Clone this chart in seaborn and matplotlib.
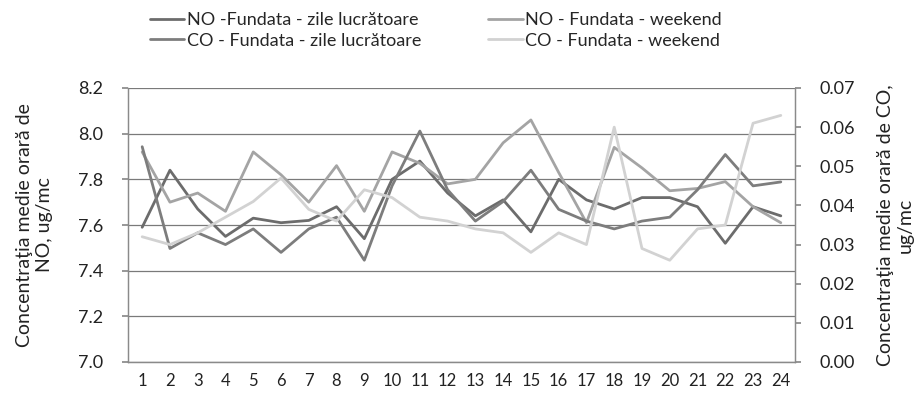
import seaborn as sns
import matplotlib.pyplot as plt
import numpy as np

sns.set_theme(style='white')
plt.rcParams['font.family'] = ['Lato', 'DejaVu Sans']

hours = list(range(1, 25))
hour_labels = [str(h) for h in hours]

# NO concentrations (left axis, ug/mc)
no_work = [7.59, 7.84, 7.67, 7.55, 7.63, 7.61, 7.62, 7.68, 7.54, 7.80, 7.88, 7.74,
           7.64, 7.71, 7.57, 7.80, 7.71, 7.67, 7.72, 7.72, 7.68, 7.52, 7.68, 7.64]
no_weekend = [7.92, 7.70, 7.74, 7.66, 7.92, 7.82, 7.70, 7.86, 7.66, 7.92, 7.87, 7.78,
              7.80, 7.96, 8.06, 7.83, 7.61, 7.94, 7.85, 7.75, 7.76, 7.79, 7.68, 7.61]

# CO concentrations (right axis, ug/mc)
co_work = [0.055, 0.029, 0.033, 0.030, 0.034, 0.028, 0.034, 0.037, 0.026, 0.045, 0.059, 0.044,
           0.036, 0.041, 0.049, 0.039, 0.036, 0.034, 0.036, 0.037, 0.044, 0.053, 0.045, 0.046]
co_weekend = [0.032, 0.030, 0.033, 0.037, 0.041, 0.047, 0.039, 0.036, 0.044, 0.042, 0.037, 0.036,
              0.034, 0.033, 0.028, 0.033, 0.030, 0.060, 0.029, 0.026, 0.034, 0.035, 0.061, 0.063]

labels = ['NO -Fundata - zile lucrătoare', 'CO - Fundata - zile lucrătoare',
          'NO - Fundata - weekend', 'CO - Fundata - weekend']
colors = ['#6c6c6c', '#7d7d7d', '#a4a4a4', '#d2d2d2']

fig, ax = plt.subplots(figsize=(9.23, 4.0), dpi=100)
fig.subplots_adjust(left=0.139, right=0.861, top=0.78, bottom=0.095)
ax2 = ax.twinx()

lw = 2.0
sns.lineplot(x=hours, y=no_work, ax=ax, color=colors[0], lw=lw, label=labels[0], legend=False)
sns.lineplot(x=hours, y=no_weekend, ax=ax, color=colors[2], lw=lw, label=labels[2], legend=False)
sns.lineplot(x=hours, y=co_work, ax=ax2, color=colors[1], lw=lw, label=labels[1], legend=False)
sns.lineplot(x=hours, y=co_weekend, ax=ax2, color=colors[3], lw=lw, label=labels[3], legend=False)

ax.set_xlim(0.5, 24.5)
ax.set_ylim(7.0, 8.2)
ax.set_yticks(np.arange(7.0, 8.21, 0.2))
ax.set_yticklabels([f'{v:.1f}' for v in np.arange(7.0, 8.21, 0.2)])
ax.set_xticks(hours)
ax.set_xticklabels(hour_labels)
ax.set_xticks(np.arange(0.5, 24.6, 1), minor=True)
ax2.set_ylim(0.0, 0.07)
ax2.set_yticks(np.arange(0.0, 0.0701, 0.01))
ax2.set_yticklabels([f'{v:.2f}' for v in np.arange(0.0, 0.0701, 0.01)])

ax.grid(axis='y', color='#7a7a7a', lw=0.9)
ax.set_axisbelow(True)
ax2.grid(False)

for a in (ax, ax2):
    for s in a.spines.values():
        s.set_color('#8a8a8a')
        s.set_linewidth(0.9)
    a.spines['top'].set_visible(False)

ax.tick_params(axis='x', which='major', length=0, labelsize=12, pad=8, colors='#222222')
ax.tick_params(axis='x', which='minor', length=4, color='#8a8a8a', direction='in')
ax.tick_params(axis='y', length=4, color='#8a8a8a', labelsize=13, pad=14, colors='#222222')
ax2.tick_params(axis='y', length=4, color='#8a8a8a', labelsize=13, pad=14, colors='#222222')

ax.set_xlabel('')
ax.set_ylabel('Concentraţia medie orară de\nNO, ug/mc', fontsize=14, color='#222222', labelpad=18)
ax2.set_ylabel('Concentraţia medie orară de CO,\nug/mc', fontsize=14, color='#222222',
               rotation=90, labelpad=16)

handles = ax.get_lines()[:2] + ax2.get_lines()[:2]
h_dict = {l.get_label(): l for l in handles}
order = [h_dict[lab] for lab in labels]
fig.legend(order, labels, loc='upper left', bbox_to_anchor=(0.145, 1.01), ncol=2,
           frameon=False, handlelength=1.9, handletextpad=0.15,
           columnspacing=3.7, labelspacing=0.25,
           prop={'family': ['Lato', 'DejaVu Sans'], 'size': 13})

fig.savefig('out.png', dpi=100)
